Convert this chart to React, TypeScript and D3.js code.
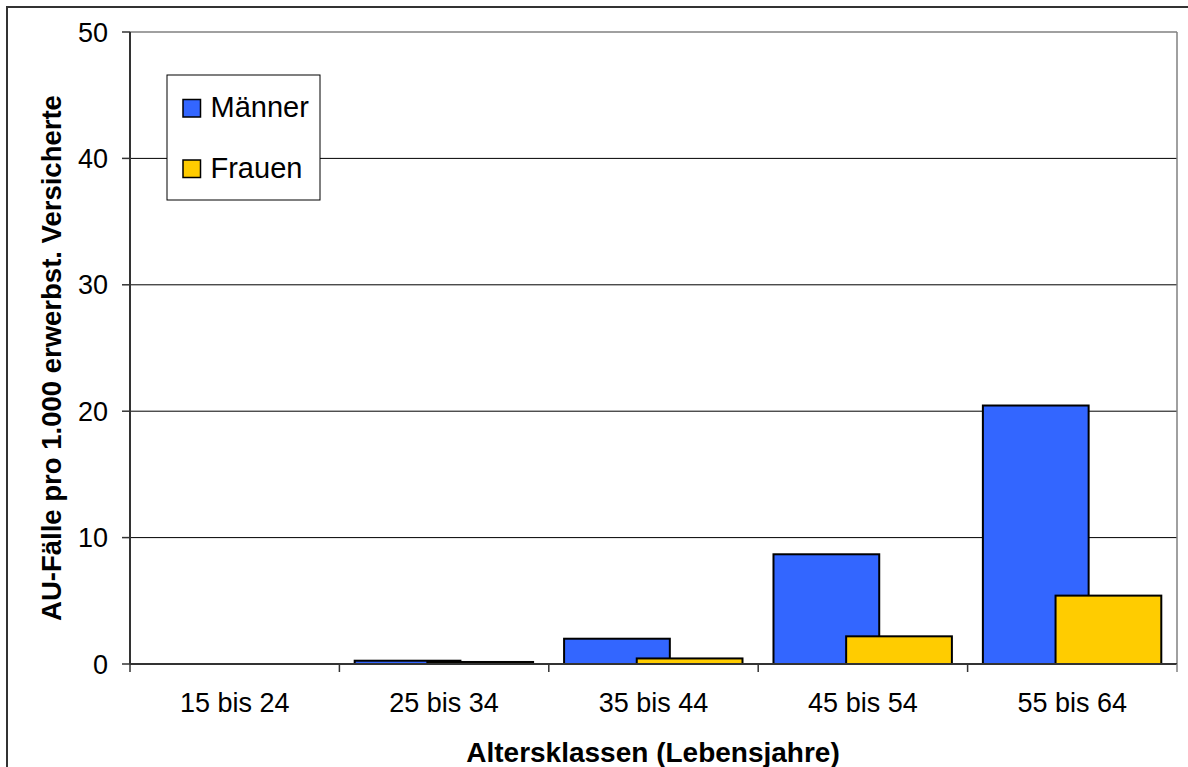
import React from "react";
import * as d3 from "d3";

const categories = ["15 bis 24", "25 bis 34", "35 bis 44", "45 bis 54", "55 bis 64"];
const maenner = [0, 0.26, 2.0, 8.68, 20.45];
const frauen = [0, 0.16, 0.44, 2.19, 5.41];
const seriesNames = ["Männer", "Frauen"];
const seriesColors = ["#3366FF", "#FFCC00"];
const yTicks = [0, 10, 20, 30, 40, 50];

const W = 1188;
const H = 767;
const left = 130;
const right = 1177;
const top = 32;
const bottom = 664;
const font = "'Liberation Sans', Arial, sans-serif";

export default function App() {
  const x = d3.scaleBand<string>().domain(categories).range([left, right]).padding(0);
  const y = d3.scaleLinear().domain([0, 50]).range([bottom, top]);
  const bw = x.bandwidth();
  const barW = bw * 0.505;
  const pad = bw * 0.073;
  const shift = bw * 0.347;
  const series = [maenner, frauen];

  return (
    <svg width={W} height={H} style={{ position: "absolute", left: 0, top: 0, background: "#fff" }}>
      <rect x={0} y={0} width={W} height={H} fill="#fff" />
      {/* outer frame */}
      <rect x={7} y={7} width={W + 20} height={H + 20} fill="none" stroke="#333" strokeWidth={2} />
      {/* gridlines */}
      {yTicks.filter((t) => t > 0 && t < 50).map((t) => (
        <line key={t} x1={left} x2={right} y1={y(t)} y2={y(t)} stroke="#000" strokeWidth={1} />
      ))}
      {/* plot border top/right */}
      <line x1={left} x2={right} y1={y(50)} y2={y(50)} stroke="#808080" strokeWidth={1.5} />
      <line x1={right} x2={right} y1={y(50)} y2={bottom} stroke="#808080" strokeWidth={1.5} />
      {/* bars */}
      {categories.map((c, i) =>
        series.map((s, si) => {
          const v = s[i];
          if (v <= 0) return null;
          const bx = (x(c) as number) + pad + si * shift;
          return (
            <rect
              key={c + si}
              x={bx}
              y={y(v)}
              width={barW}
              height={bottom - y(v)}
              fill={seriesColors[si]}
              stroke="#000"
              strokeWidth={2}
            />
          );
        })
      )}
      {/* axes */}
      <line x1={left} x2={left} y1={top} y2={bottom} stroke="#333" strokeWidth={2} />
      <line x1={left} x2={right} y1={bottom} y2={bottom} stroke="#333" strokeWidth={2} />
      {yTicks.map((t) => (
        <g key={t}>
          <line x1={left - 8} x2={left} y1={y(t)} y2={y(t)} stroke="#333" strokeWidth={1.5} />
          <text x={108} y={y(t) + 9.5} textAnchor="end" fontFamily={font} fontSize={27} fill="#000">
            {t}
          </text>
        </g>
      ))}
      {categories.map((c) => (
        <line key={c} x1={x(c)} x2={x(c)} y1={bottom} y2={bottom + 8} stroke="#333" strokeWidth={1.5} />
      ))}
      <line x1={right} x2={right} y1={bottom} y2={bottom + 8} stroke="#808080" strokeWidth={1.5} />
      {categories.map((c) => (
        <text
          key={c}
          x={(x(c) as number) + bw / 2}
          y={712}
          textAnchor="middle"
          fontFamily={font}
          fontSize={27}
          fill="#000"
        >
          {c}
        </text>
      ))}
      <text x={653} y={762} textAnchor="middle" fontFamily={font} fontSize={28} fontWeight="bold" fill="#000">
        Altersklassen (Lebensjahre)
      </text>
      <text
        transform={`translate(61, 358) rotate(-90)`}
        textAnchor="middle"
        fontFamily={font}
        fontSize={27.5}
        fontWeight="bold"
        fill="#000"
      >
        AU-Fälle pro 1.000 erwerbst. Versicherte
      </text>
      {/* legend */}
      <rect x={167} y={75} width={153} height={125} fill="#fff" stroke="#000" strokeWidth={1} />
      {seriesNames.map((n, i) => {
        const by = 117 + i * 60.5;
        return (
          <g key={n}>
            <rect x={183} y={by - 17.5} width={17.5} height={17.5} fill={seriesColors[i]} stroke="#000" strokeWidth={1.5} />
            <text x={210.5} y={by} fontFamily={font} fontSize={29} fill="#000">
              {n}
            </text>
          </g>
        );
      })}
    </svg>
  );
}
